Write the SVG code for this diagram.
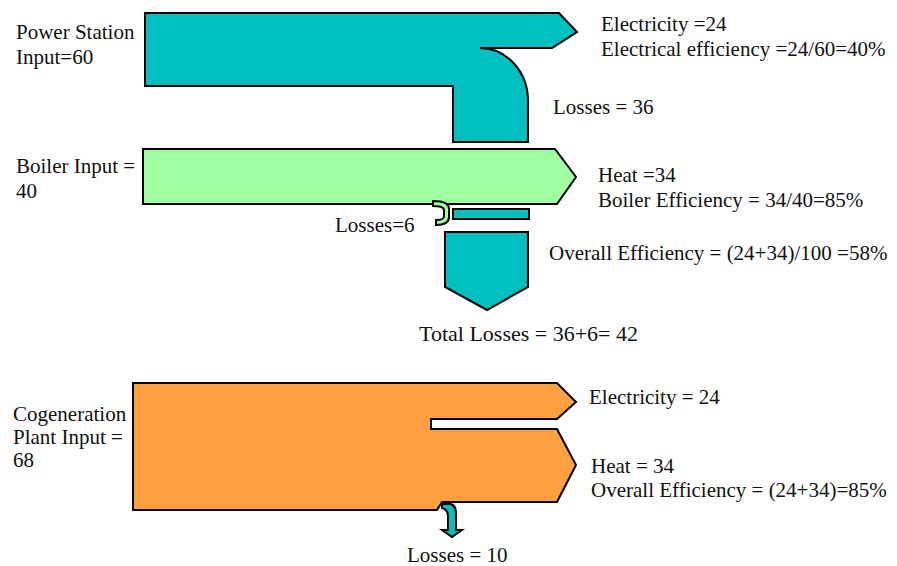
<svg xmlns="http://www.w3.org/2000/svg" width="897" height="566" viewBox="0 0 897 566">
<style>
.flow{stroke:#000;stroke-width:2;stroke-linejoin:miter}
.teal{fill:#00BFBF}
.green{fill:#A0FFA0}
.orange{fill:#FFA040}
text{font-family:"Liberation Serif","Times New Roman",serif;font-size:21px;fill:#111}
.big{font-size:22px}
</style>
<rect width="897" height="566" fill="#fff"/>
<g id="power-station">
<path class="flow teal" d="M145,13 L559,13 L577,32 L552,48 L480,48 A48,53 0 0 1 528,101 L528,142 L453,142 L453,86 L145,86 Z"/>
<text x="16" y="39">Power Station</text>
<text x="16" y="64">Input=60</text>
<text x="601" y="31">Electricity =24</text>
<text x="601" y="56">Electrical efficiency =24/60=40%</text>
<text x="553" y="114">Losses = 36</text>
</g>
<g id="boiler">
<path class="flow green" d="M143,149 L555,149 L576,177 L557,204 L143,204 Z"/>
<path class="flow green" d="M433,201 C443,201 449,203 449,209 L449,217 C449,223 444,225 436,225 L436,220 C442,220 444,219 444,216 L444,210 C444,207 440,206 433,206 Z"/>
<rect class="flow teal" x="453" y="209" width="76" height="10"/>
<text x="16" y="173">Boiler Input =</text>
<text x="16" y="198">40</text>
<text x="598" y="182">Heat =34</text>
<text x="598" y="207">Boiler Efficiency = 34/40=85%</text>
<text x="335" y="232">Losses=6</text>
</g>
<g id="total-losses">
<path class="flow teal" d="M445,232 L528,232 L528,287 L487,310 L445,287 Z"/>
<text x="549" y="260">Overall Efficiency = (24+34)/100 =58%</text>
<text class="big" x="419" y="341">Total Losses = 36+6= 42</text>
</g>
<g id="cogeneration">
<path class="flow orange" d="M133,383 L557,383 L576,402 L557,419 L431,419 L431,429 L557,429 L576,465 L557,502 L442,502 L437,510 L133,510 Z"/>
<text x="13" y="421">Cogeneration</text>
<text x="13" y="444">Plant Input =</text>
<text x="13" y="467">68</text>
<text x="589" y="404">Electricity = 24</text>
<text x="591" y="473">Heat = 34</text>
<text x="591" y="497">Overall Efficiency = (24+34)=85%</text>
<text x="407" y="562">Losses = 10</text>
</g>
<g id="connectors">
<path class="flow teal" stroke-width="1.5" d="M442,504 L451,504 Q456,506 456,513 L456,530 L462,530 L452,537 L442,530 L448,530 L448,515 Q447,509 442,508 Z"/>
</g>
</svg>
